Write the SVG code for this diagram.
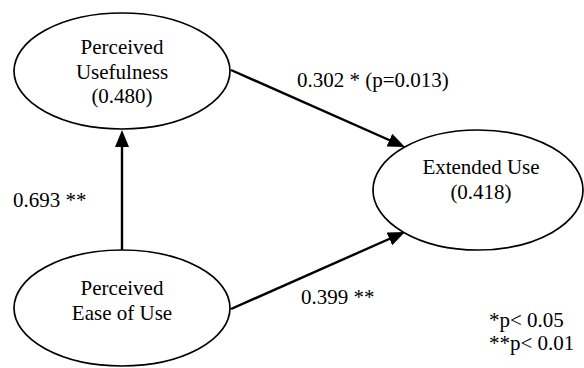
<svg xmlns="http://www.w3.org/2000/svg" width="584" height="368" viewBox="0 0 584 368">
<defs>
<style>
.node{fill:#fff;stroke:#000;stroke-width:1.7}
.edge{stroke:#000;stroke-width:2.4;fill:none}
text{font-family:"Liberation Serif","Times New Roman",serif;font-size:21px;fill:#000}
.c{text-anchor:middle}
</style>
<marker id="ah" viewBox="0 0 17 14" refX="12" refY="7" markerWidth="17" markerHeight="14" markerUnits="userSpaceOnUse" orient="auto">
<path d="M0,0 L17,7 L0,14 Z" fill="#000"/>
</marker>
</defs>
<rect width="584" height="368" fill="#fff"/>
<g id="connectors">
<line class="edge" x1="231" y1="70" x2="400.4" y2="145" marker-end="url(#ah)"/>
<line class="edge" x1="231" y1="309" x2="400.4" y2="234" marker-end="url(#ah)"/>
<line class="edge" x1="122" y1="250" x2="122" y2="135" marker-end="url(#ah)"/>
</g>
<g id="pu">
<ellipse class="node" cx="122" cy="71" rx="108" ry="58"/>
<text class="c" x="122" y="54">Perceived</text>
<text class="c" x="122" y="79">Usefulness</text>
<text class="c" x="122" y="103">(0.480)</text>
</g>
<g id="peou">
<ellipse class="node" cx="122" cy="308" rx="108" ry="58"/>
<text class="c" x="122" y="295">Perceived</text>
<text class="c" x="122" y="320">Ease of Use</text>
</g>
<g id="eu">
<ellipse class="node" cx="478" cy="190" rx="105" ry="60"/>
<text class="c" x="481" y="174">Extended Use</text>
<text class="c" x="481" y="199">(0.418)</text>
</g>
<g id="labels">
<text x="297" y="87">0.302 * (p=0.013)</text>
<text x="13" y="207">0.693 **</text>
<text x="301" y="304">0.399 **</text>
<text x="489" y="327">*p&lt; 0.05</text>
<text x="489" y="350">**p&lt; 0.01</text>
</g>
</svg>
